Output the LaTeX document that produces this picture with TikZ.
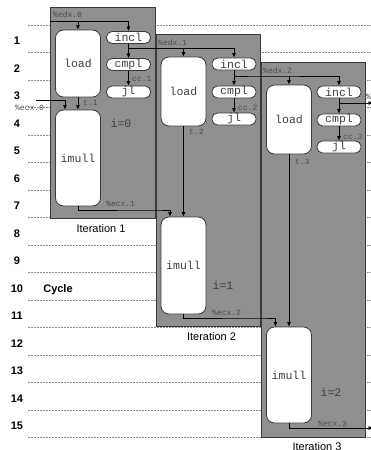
\documentclass[tikz,border=0pt]{standalone}
\usepackage{fontspec}
\setmainfont{Liberation Sans}
\setsansfont{Liberation Sans}
\setmonofont{Liberation Mono}
\definecolor{itergray}{RGB}{143,143,143}
\definecolor{edgegray}{RGB}{58,58,58}
\usepackage{tikz}
\usetikzlibrary{arrows.meta}

\begin{document}
\begin{tikzpicture}[x=1pt,y=-1pt,>={Latex[length=4.5pt,width=4pt]},
  iter/.style={fill=itergray,draw=edgegray,line width=1pt},
  unit/.style={draw=edgegray,fill=white,rounded corners=8pt,line width=0.8pt,minimum width=45pt,inner sep=0,text=black!75,font=\ttfamily\fontsize{11.5}{12}\selectfont},
  op/.style={draw=edgegray,fill=white,rounded corners=5.5pt,line width=0.8pt,minimum width=44pt,minimum height=12pt,inner sep=0,text=black!75,font=\ttfamily\fontsize{11.5}{12}\selectfont},
  reg/.style={anchor=west,inner sep=0,text=black!70,font=\ttfamily\fontsize{8}{8}\selectfont},
  idx/.style={inner sep=0,text=black!75,font=\ttfamily\fontsize{11.5}{12}\selectfont},
  flow/.style={->,line width=0.7pt},
  cycleline/.style={draw=black!45,dashed,dash pattern=on 2pt off 1pt,line width=0.6pt},
  cyclenum/.style={inner sep=0,font=\bfseries\fontsize{11}{12}\selectfont},
  itername/.style={inner sep=0,font=\fontsize{11}{12}\selectfont}]
  \useasboundingbox (0,0) rectangle (371,450);

  % clock cycles
  \foreach \k in {0,...,15}
    \draw[cycleline] (28,25+27.5*\k) -- (371,25+27.5*\k);
  \foreach \k in {1,...,15}
    \node[cyclenum] (c\k) at (17,13.5+27.5*\k) {\k};
  \node[cyclenum] (cyc) at (58,290) {Cycle};

  % iteration frames
  \draw[iter] (50,7) rectangle (155,218);
  \draw[iter] (156,34) rectangle (260,326);
  \draw[iter] (261,62) rectangle (365,437);
  \node[itername] (it1) at (101,229) {Iteration 1};
  \node[itername] (it2) at (211.5,337) {Iteration 2};
  \node[itername] (it3) at (317,447) {Iteration 3};

  % iteration 1
  \node[unit,minimum height=67pt] (load1) at (78,63.5) {load};
  \node[op] (incl1) at (128.5,37.5) {incl};
  \node[op] (cmpl1) at (128.5,64.5) {cmpl};
  \node[op] (jl1) at (128.5,92) {jl};
  \node[unit,minimum height=96pt] (imull1) at (78,158) {imull};
  \node[idx] (i0) at (121,123) {i=0};
  \coordinate (edx0) at (50,21);
  \coordinate (ecx0) at (36,100);
  \node[reg] (edx0l) at (53,15) {\%edx.0};
  \node[reg] (ecx0l) at (15,108) {\%ecx.0};
  \node[reg] (t1) at (83,103) {t.1};
  \node[reg] (cc1) at (132,79) {cc.1};
  \draw[flow] (edx0) -| (incl1);
  \draw[flow] (load1 |- edx0) -- (load1);
  \draw[flow] (incl1) -- (cmpl1);
  \draw[flow] (cmpl1) -- (jl1);
  \draw[flow] (load1) -- (imull1);
  \draw[flow] (ecx0) -| ([xshift=-13pt]imull1.north);

  % iteration 2
  \node[unit,minimum height=69pt] (load2) at (183.5,91.5) {load};
  \node[op] (incl2) at (234,64) {incl};
  \node[op] (cmpl2) at (234,92) {cmpl};
  \node[op] (jl2) at (234,119) {jl};
  \node[unit,minimum height=97pt] (imull2) at (183.5,265.5) {imull};
  \node[idx] (i1) at (223,285) {i=1};
  \coordinate (edx1) at (155,48.5);
  \coordinate (ecx1) at (155,210);
  \node[reg] (edx1l) at (158,43) {\%edx.1};
  \node[reg] (ecx1l) at (106,204) {\%ecx.1};
  \node[reg] (t2) at (189,132) {t.2};
  \node[reg] (cc2) at (238,108) {cc.2};
  \draw[flow] (incl1.south) |- (edx1) -| (incl2);
  \draw[flow] (load2 |- edx1) -- (load2);
  \draw[flow] (incl2) -- (cmpl2);
  \draw[flow] (cmpl2) -- (jl2);
  \draw[flow] (load2) -- (imull2);
  \draw[flow] (imull1.south) |- (ecx1) -| ([xshift=-13.5pt]imull2.north);

  % iteration 3
  \node[unit,minimum height=69pt] (load3) at (289,119.5) {load};
  \node[op] (incl3) at (339,92) {incl};
  \node[op] (cmpl3) at (339,120) {cmpl};
  \node[op] (jl3) at (339,147) {jl};
  \node[unit,minimum height=96pt] (imull3) at (289,375) {imull};
  \node[idx] (i2) at (331,392) {i=2};
  \coordinate (edx2) at (261,76);
  \coordinate (ecx2) at (261,318);
  \node[reg] (edx2l) at (263,71) {\%edx.2};
  \node[reg] (ecx2l) at (212,313) {\%ecx.2};
  \node[reg] (t3) at (295,162) {t.3};
  \node[reg] (cc3) at (343,137) {cc.3};
  \draw[flow] (incl2.south) |- (edx2) -| (incl3);
  \draw[flow] (load3 |- edx2) -- (load3);
  \draw[flow] (incl3) -- (cmpl3);
  \draw[flow] (cmpl3) -- (jl3);
  \draw[flow] (load3) -- (imull3);
  \draw[flow] (imull2.south) |- (ecx2) -| ([xshift=-13.5pt]imull3.north);

  % values passed on
  \coordinate (edx3) at (373,103);
  \coordinate (ecx3) at (373,428);
  \node[reg] (edx3l) at (366,97) {\%edx.3};
  \node[reg] (ecx3l) at (318,424) {\%ecx.3};
  \draw[flow] (incl3.south) |- (edx3);
  \draw[flow] (imull3.south) |- (ecx3);
\end{tikzpicture}
\end{document}
